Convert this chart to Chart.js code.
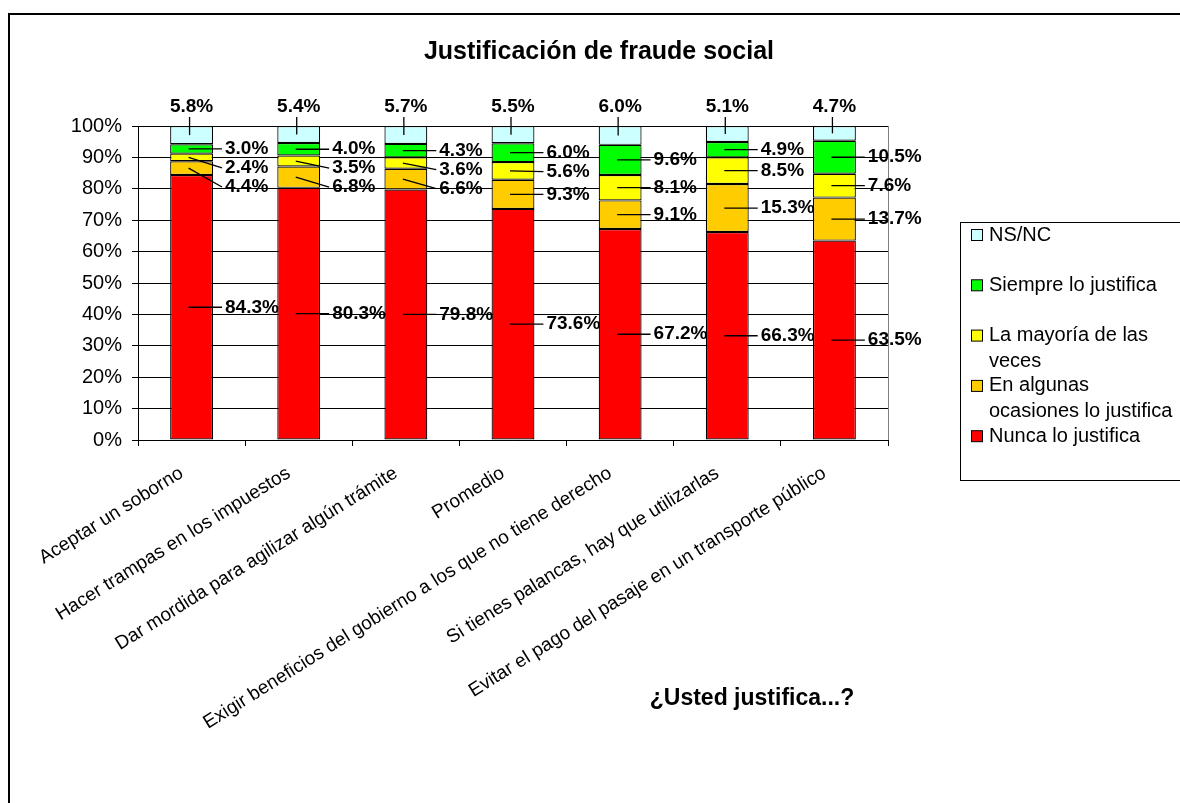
<!DOCTYPE html>
<html lang="es">
<head>
<meta charset="utf-8">
<title>Justificación de fraude social</title>
<script src="https://cdn.jsdelivr.net/npm/chart.js@4.4.1/dist/chart.umd.min.js"></script>
<style>
  html, body { margin: 0; padding: 0; background: #fff; }
  #wrap { width: 1180px; height: 803px; }
</style>
</head>
<body>
<div id="wrap"><canvas id="fraudChart" width="1180" height="803"></canvas></div>
<script>
const FONT = "'Liberation Sans', Arial, sans-serif";

// Categories, in the order they appear on the x axis
const CATEGORIES = [
  "Aceptar un soborno",
  "Hacer trampas en los impuestos",
  "Dar mordida para agilizar algún trámite",
  "Promedio",
  "Exigir beneficios del gobierno a los que no tiene derecho",
  "Si tienes palancas, hay que utilizarlas",
  "Evitar el pago del pasaje en un transporte público"
];

// Series, bottom of the stack first
const SERIES = [
  "Nunca lo justifica",
  "En algunas ocasiones lo justifica",
  "La mayoría de las veces",
  "Siempre lo justifica",
  "NS/NC"
];

const NUNCA   = [84.3, 80.3, 79.8, 73.6, 67.2, 66.3, 63.5];
const ALGUNAS = [4.4, 6.8, 6.6, 9.3, 9.1, 15.3, 13.7];
const MAYORIA = [2.4, 3.5, 3.6, 5.6, 8.1, 8.5, 7.6];
const SIEMPRE = [3.0, 4.0, 4.3, 6.0, 9.6, 4.9, 10.5];
const NSNC    = [5.8, 5.4, 5.7, 5.5, 6.0, 5.1, 4.7];

const COLORS = ["#FF0000", "#FFCC00", "#FFFF00", "#00FF00", "#CCFFFF"];

const TITLE = "Justificación de fraude social";
const X_TITLE = "¿Usted justifica...?";

const VALUES = [NUNCA, ALGUNAS, MAYORIA, SIEMPRE, NSNC];

// 100% stacked: every column is scaled to its own total
const totals = CATEGORIES.map((_, i) => VALUES.reduce((s, arr) => s + arr[i], 0));

const datasets = VALUES.map((vals, k) => ({
  label: SERIES[k],
  data: vals.map((v, i) => v / totals[i] * 100),
  raw: vals,
  backgroundColor: COLORS[k],
  borderColor: "#000",
  borderWidth: 1.2,
  borderSkipped: false,
  categoryPercentage: 1,
  barPercentage: 0.4
}));

function fmt(v) {
  return v.toFixed(1) + "%";
}

function wrapText(ctx, text, maxW) {
  const words = text.split(" ");
  const lines = [];
  let cur = "";
  for (const w of words) {
    const t = cur ? cur + " " + w : w;
    if (cur && ctx.measureText(t).width > maxW) {
      lines.push(cur);
      cur = w;
    } else {
      cur = t;
    }
  }
  lines.push(cur);
  return lines;
}

// Excel-like extras: frame, data labels with leader lines, titles, boxed legend
const excelLook = {
  id: "excelLook",
  beforeDraw(chart) {
    const ctx = chart.ctx;
    ctx.save();
    ctx.fillStyle = "#fff";
    ctx.fillRect(0, 0, chart.width, chart.height);
    ctx.strokeStyle = "#000";
    ctx.lineWidth = 2;
    ctx.strokeRect(9, 14, chart.width + 40, chart.height + 40);
    ctx.restore();
  },
  afterDatasetsDraw(chart) {
    const ctx = chart.ctx;
    const area = chart.chartArea;
    ctx.save();

    // grey right edge of the plot area
    const rx = Math.round(area.right) + 0.5;
    ctx.strokeStyle = "#808080";
    ctx.lineWidth = 1;
    ctx.beginPath();
    ctx.moveTo(rx, area.top);
    ctx.lineTo(rx, area.bottom);
    ctx.stroke();

    const line = (x1, y1, x2, y2) => {
      ctx.beginPath();
      ctx.moveTo(x1, y1);
      ctx.lineTo(x2, y2);
      ctx.stroke();
    };

    ctx.font = "bold 19px " + FONT;
    ctx.fillStyle = "#000";
    ctx.strokeStyle = "#000";
    ctx.lineWidth = 1.3;
    ctx.textBaseline = "middle";

    const sets = chart.data.datasets;
    const last = sets.length - 1;
    CATEGORIES.forEach((_, i) => {
      // top segment: label above the column
      const topEl = chart.getDatasetMeta(last).data[i];
      const topMid = (topEl.y + topEl.base) / 2;
      ctx.textAlign = "center";
      ctx.fillText(fmt(sets[last].raw[i]), topEl.x, topEl.y - 19);
      line(topEl.x - 2, topEl.y - 9, topEl.x - 2, topMid);

      // the rest: to the right of the column, pushed down so they don't overlap
      ctx.textAlign = "left";
      let prev = -Infinity;
      for (let k = last - 1; k >= 0; k--) {
        const el = chart.getDatasetMeta(k).data[i];
        const mid = (el.y + el.base) / 2;
        const ly = Math.max(mid, prev + 19);
        prev = ly;
        const lx = el.x + el.width / 2 + 12;
        line(el.x - 3, mid, lx - 3, ly);
        ctx.fillText(fmt(sets[k].raw[i]), lx, ly);
      }
    });
    ctx.restore();
  },
  afterDraw(chart) {
    const ctx = chart.ctx;
    ctx.save();
    ctx.fillStyle = "#000";
    ctx.textAlign = "center";
    ctx.textBaseline = "middle";

    ctx.font = "bold 25px " + FONT;
    ctx.fillText(TITLE, 599, 52);

    ctx.font = "bold 23px " + FONT;
    ctx.fillText(X_TITLE, 752, 699);

    // legend box, series listed top of the stack first
    ctx.strokeStyle = "#000";
    ctx.lineWidth = 1;
    ctx.strokeRect(960.5, 222.5, 400, 258);
    ctx.font = "20px " + FONT;
    ctx.textAlign = "left";
    const sets = chart.data.datasets.slice().reverse();
    sets.forEach((ds, n) => {
      const y = 235 + n * 50.3;
      ctx.fillStyle = ds.backgroundColor;
      ctx.fillRect(971.5, y - 5.5, 11, 11);
      ctx.strokeStyle = "#000";
      ctx.strokeRect(971.5, y - 5.5, 11, 11);
      ctx.fillStyle = "#000";
      wrapText(ctx, ds.label, 194).forEach((txt, j) => {
        ctx.fillText(txt, 989, y + j * 25.5);
      });
    });
    ctx.restore();
  }
};

const ctx = document.getElementById("fraudChart").getContext("2d");

new Chart(ctx, {
  type: "bar",
  data: {
    labels: CATEGORIES,
    datasets: datasets
  },
  plugins: [excelLook],
  options: {
    responsive: false,
    animation: false,
    devicePixelRatio: 1,
    layout: {
      padding: { top: 126, right: 292, bottom: 0, left: 0 }
    },
    plugins: {
      legend: { display: false },
      title: { display: false },
      tooltip: { enabled: false }
    },
    scales: {
      x: {
        stacked: true,
        afterFit: (s) => { s.height = 363; },
        grid: {
          display: true,
          drawOnChartArea: false,
          drawTicks: true,
          tickLength: 6,
          offset: true,
          color: "#000"
        },
        border: { color: "#000", width: 1 },
        ticks: {
          autoSkip: false,
          minRotation: 32,
          maxRotation: 32,
          padding: 16,
          labelOffset: -10,
          color: "#000",
          font: { family: FONT, size: 19 }
        }
      },
      y: {
        stacked: true,
        min: 0,
        max: 100,
        afterFit: (s) => { s.width = 138; },
        grid: {
          color: "#000",
          lineWidth: 1,
          tickLength: 6
        },
        border: { color: "#000", width: 1 },
        ticks: {
          stepSize: 10,
          padding: 10,
          color: "#000",
          font: { family: FONT, size: 20 },
          callback: (v) => v + "%"
        }
      }
    }
  }
});
</script>
</body>
</html>
